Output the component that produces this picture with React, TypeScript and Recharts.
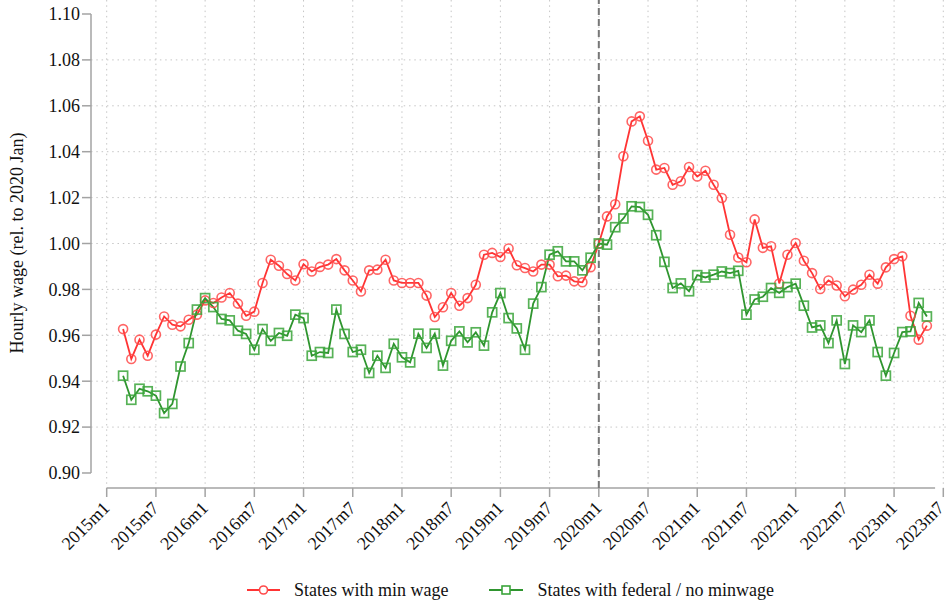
import React from 'react';
import { LineChart, Line, XAxis, YAxis, CartesianGrid, ReferenceLine, Legend } from 'recharts';

// month index 0 = 2015m1; first observation is 2015m3
const firstMonthIndex = 2;

const minWage = [
  0.9627, 0.9497, 0.9581, 0.9511, 0.9603, 0.9682, 0.9646, 0.9639, 0.9668, 0.9690,
  0.9752, 0.9741, 0.9765, 0.9784, 0.9738, 0.9685, 0.9703, 0.9828, 0.9929, 0.9903,
  0.9867, 0.9839, 0.9910, 0.9878, 0.9898, 0.9908, 0.9932, 0.9883, 0.9839, 0.9791,
  0.9883, 0.9886, 0.9929, 0.9839, 0.9828, 0.9828, 0.9828, 0.9773, 0.9680, 0.9722,
  0.9784, 0.9729, 0.9762, 0.9820, 0.9951, 0.9959, 0.9941, 0.9978, 0.9905, 0.9893,
  0.9878, 0.9908, 0.9908, 0.9857, 0.9860, 0.9835, 0.9831, 0.9897, 1.0000, 1.0118,
  1.0171, 1.0380, 1.0532, 1.0554, 1.0448, 1.0322, 1.0329, 1.0256, 1.0271, 1.0333,
  1.0292, 1.0317, 1.0256, 1.0198, 1.0038, 0.9939, 0.9918, 1.0105, 0.9981, 0.9988,
  0.9826, 0.9951, 1.0002, 0.9925, 0.9871, 0.9802, 0.9839, 0.9817, 0.9770, 0.9799,
  0.9820, 0.9864, 0.9825, 0.9896, 0.9932, 0.9944, 0.9685, 0.9581, 0.9642,
];

const federal = [
  0.9424, 0.9319, 0.9367, 0.9356, 0.9337, 0.9261, 0.9301, 0.9464, 0.9566, 0.9712,
  0.9762, 0.9723, 0.9671, 0.9665, 0.9620, 0.9606, 0.9537, 0.9627, 0.9576, 0.9610,
  0.9598, 0.9690, 0.9675, 0.9511, 0.9527, 0.9523, 0.9712, 0.9606, 0.9527, 0.9537,
  0.9436, 0.9511, 0.9458, 0.9563, 0.9504, 0.9482, 0.9607, 0.9545, 0.9607, 0.9468,
  0.9576, 0.9617, 0.9569, 0.9613, 0.9555, 0.9700, 0.9784, 0.9675, 0.9630, 0.9537,
  0.9738, 0.9810, 0.9951, 0.9966, 0.9922, 0.9922, 0.9883, 0.9938, 1.0000, 0.9995,
  1.0071, 1.0109, 1.0162, 1.0159, 1.0125, 1.0036, 0.9920, 0.9806, 0.9826, 0.9792,
  0.9862, 0.9852, 0.9864, 0.9878, 0.9871, 0.9881, 0.9690, 0.9756, 0.9768, 0.9806,
  0.9785, 0.9810, 0.9825, 0.9729, 0.9634, 0.9643, 0.9566, 0.9665, 0.9475, 0.9643,
  0.9614, 0.9665, 0.9527, 0.9424, 0.9523, 0.9614, 0.9617, 0.9741, 0.9682,
];

const xTickValues = [0, 6, 12, 18, 24, 30, 36, 42, 48, 54, 60, 66, 72, 78, 84, 90, 96, 102];
const xTickLabels = [
  '2015m1', '2015m7', '2016m1', '2016m7', '2017m1', '2017m7', '2018m1', '2018m7', '2019m1',
  '2019m7', '2020m1', '2020m7', '2021m1', '2021m7', '2022m1', '2022m7', '2023m1', '2023m7',
];
const yTicks = [0.9, 0.92, 0.94, 0.96, 0.98, 1.0, 1.02, 1.04, 1.06, 1.08, 1.1];
const yGrid = [0.92, 0.94, 0.96, 0.98, 1.0, 1.02, 1.04, 1.06, 1.08];
const eventMonth = 60; // 2020m1

const seriesNames = ['States with min wage', 'States with federal / no minwage'];

const data = minWage.map((v, i) => ({ m: firstMonthIndex + i, minWage: v, federal: federal[i] }));

const FONT = '"Liberation Serif", "Times New Roman", serif';
const RED = '#ff3434';
const RED_DOT = '#ff4a4a';
const GREEN = '#2f952f';
const GREEN_DOT = '#3aa43a';
const AXIS = '#a3a3a3';

const X_MIN = -1.914;
const X_MAX = 102.33;
const Y_MIN = 0.89346;
const Y_MAX = 1.1061;

const XTick = (props: any) => {
  const { x, y, payload } = props;
  const idx = xTickValues.indexOf(payload.value);
  const label = idx >= 0 ? xTickLabels[idx] : '';
  const px = Math.min(x + 4, 945);
  const py = y + 10;
  return (
    <text
      x={px}
      y={py}
      transform={`rotate(-45, ${px}, ${py})`}
      textAnchor="end"
      fill="#111"
      fontFamily={FONT}
      fontSize={18}
    >
      {label}
    </text>
  );
};

const YLabel = (props: any) => {
  const vb = props.viewBox || { x: 0, y: 0, width: 91, height: 488 };
  const cx = vb.x + 23;
  const cy = vb.y + vb.height / 2 - 1;
  return (
    <text
      x={cx}
      y={cy}
      transform={`rotate(-90, ${cx}, ${cy})`}
      textAnchor="middle"
      fill="#111"
      fontFamily={FONT}
      fontSize={18}
    >
      Hourly wage (rel. to 2020 Jan)
    </text>
  );
};

const SquareDot = (props: any) => {
  const { cx, cy, index } = props;
  if (cx == null || cy == null) return null;
  return (
    <rect
      key={`sq-${index}`}
      x={cx - 4.5}
      y={cy - 4.5}
      width={9}
      height={9}
      fill="none"
      stroke={GREEN_DOT}
      strokeWidth={1.7}
      strokeOpacity={0.85}
    />
  );
};

const LegendContent = () => (
  <div
    style={{
      width: 946,
      height: 30,
      display: 'flex',
      alignItems: 'center',
      boxSizing: 'border-box',
      paddingLeft: 247,
      fontFamily: FONT,
      fontSize: 18,
      color: '#111',
      lineHeight: '30px',
    }}
  >
    <svg width={33} height={14} style={{ display: 'block' }}>
      <line x1={0} y1={7} x2={33} y2={7} stroke={RED} strokeWidth={2} />
      <circle cx={16.5} cy={7} r={4} fill="#fff" stroke={RED_DOT} strokeWidth={1.6} />
    </svg>
    <span style={{ marginLeft: 14, whiteSpace: 'nowrap' }}>{seriesNames[0]}</span>
    <svg width={34} height={14} style={{ display: 'block', marginLeft: 41 }}>
      <line x1={0} y1={7} x2={34} y2={7} stroke={GREEN} strokeWidth={2} />
      <rect x={13} y={3} width={8} height={8} fill="#fff" stroke={GREEN_DOT} strokeWidth={1.6} />
    </svg>
    <span style={{ marginLeft: 14, whiteSpace: 'nowrap' }}>{seriesNames[1]}</span>
  </div>
);

export default function App() {
  return (
    <div style={{ position: 'absolute', left: 0, top: 0, width: 946, height: 605, background: '#fff' }}>
      <LineChart width={946} height={605} data={data} margin={{ top: 0, right: 0, left: 0, bottom: 0 }}>
        <CartesianGrid
          horizontalValues={yGrid}
          verticalValues={xTickValues}
          stroke="#c6c6c6"
          strokeDasharray="1.5 3.8"
          strokeWidth={1}
        />
        <XAxis
          type="number"
          dataKey="m"
          domain={[X_MIN, X_MAX]}
          allowDataOverflow
          ticks={xTickValues}
          interval={0}
          tick={<XTick />}
          tickSize={9}
          tickLine={{ stroke: AXIS, strokeWidth: 1.5 }}
          axisLine={false}
          height={87}
        />
        <YAxis
          type="number"
          domain={[Y_MIN, Y_MAX]}
          allowDataOverflow
          ticks={yTicks}
          interval={0}
          tickFormatter={(v: number) => v.toFixed(2)}
          tick={{ fill: '#111', fontFamily: FONT, fontSize: 18 }}
          tickSize={9}
          tickLine={{ stroke: AXIS, strokeWidth: 1.5 }}
          axisLine={false}
          width={91}
          label={<YLabel />}
        />
        <ReferenceLine
          segment={[{ x: X_MIN, y: 0.9 }, { x: X_MIN, y: 1.1 }]}
          stroke={AXIS}
          strokeWidth={1.5}
          ifOverflow="visible"
        />
        <ReferenceLine
          segment={[{ x: 0, y: Y_MIN }, { x: 101, y: Y_MIN }]}
          stroke={AXIS}
          strokeWidth={1.5}
          ifOverflow="visible"
        />
        <ReferenceLine x={eventMonth} stroke="#777" strokeWidth={2} strokeDasharray="7 4" ifOverflow="visible" />
        <Line
          type="linear"
          dataKey="minWage"
          name={seriesNames[0]}
          stroke={RED}
          strokeWidth={1.8}
          dot={{ r: 4.5, fill: 'none', stroke: RED_DOT, strokeWidth: 1.6, strokeOpacity: 0.85 }}
          activeDot={false}
          isAnimationActive={false}
        />
        <Line
          type="linear"
          dataKey="federal"
          name={seriesNames[1]}
          stroke={GREEN}
          strokeWidth={1.8}
          dot={<SquareDot />}
          activeDot={false}
          isAnimationActive={false}
        />
        <Legend
          verticalAlign="bottom"
          content={<LegendContent />}
          wrapperStyle={{ left: 0, bottom: 0, width: 946, height: 30 }}
        />
      </LineChart>
    </div>
  );
}
